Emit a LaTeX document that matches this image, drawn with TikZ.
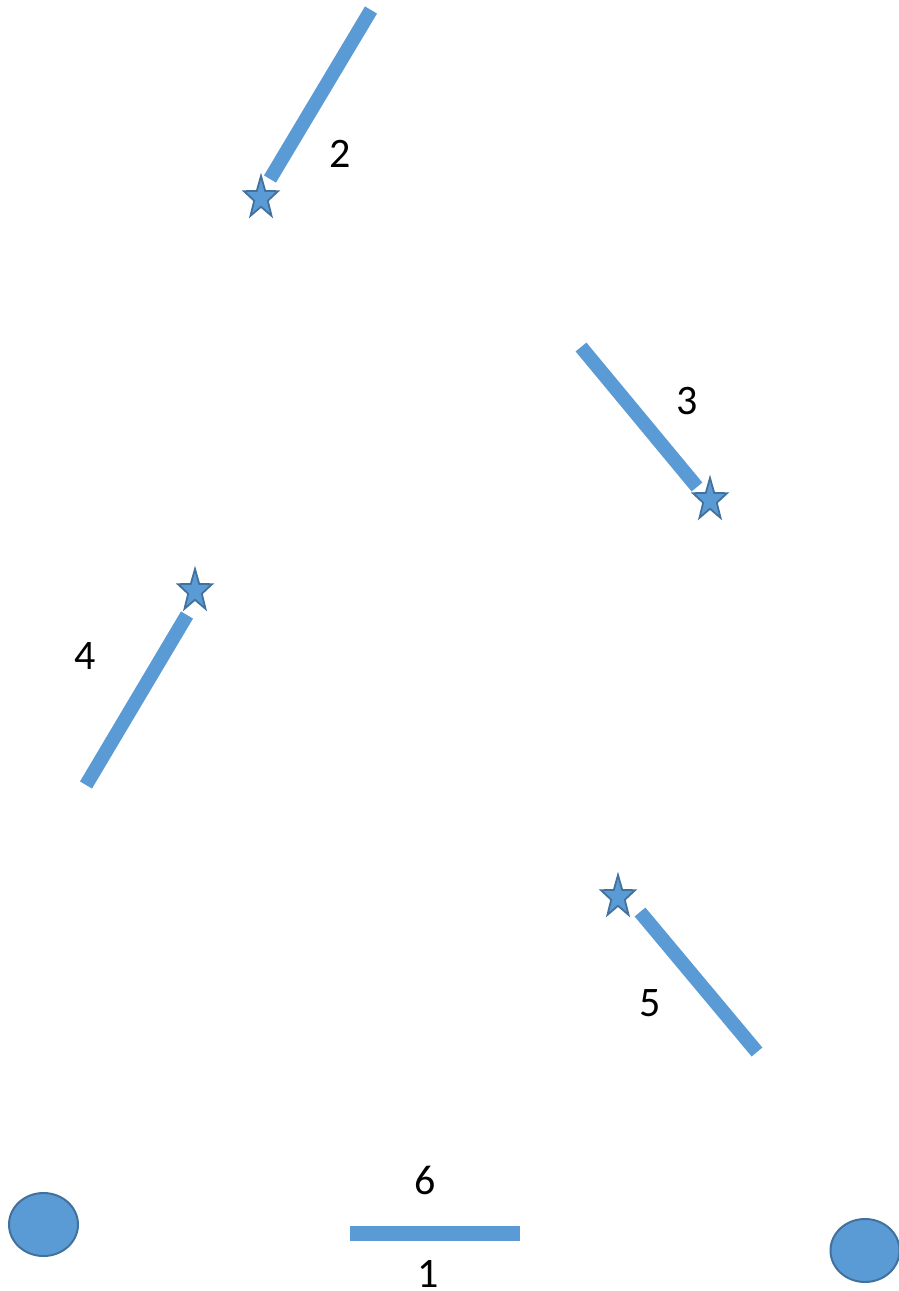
\documentclass[tikz,border=0pt]{standalone}
\usepackage{fontspec}
\setmainfont{Carlito}
\definecolor{shapefill}{HTML}{5B9BD5}
\definecolor{shapeline}{HTML}{41719C}
\begin{document}
\begin{tikzpicture}[x=1pt,y=-1pt,
  bar/.style={draw=shapefill,line width=14pt},
  lbl/.style={inner sep=0pt,font=\fontsize{42}{50}\selectfont},
  starsty/.style={fill=shapefill,draw=shapeline,line width=1.8pt,line join=miter},
  dotsty/.style={fill=shapefill,draw=shapeline,line width=2pt},
  starmark/.pic={
    \begin{scope}[xscale=17.9,yscale=-22]
      \path[starsty] (90:1) -- (126:0.4) -- (162:1) -- (198:0.4) -- (234:1) -- (270:0.4) -- (306:1) -- (342:0.4) -- (18:1) -- (54:0.4) -- cycle;
    \end{scope}
  }]
\useasboundingbox (0,0) rectangle (898,1291);
% bar end points
\coordinate (b2a) at (371,10);  \coordinate (b2b) at (270,179);
\coordinate (b3a) at (581,347); \coordinate (b3b) at (697,487);
\coordinate (b4a) at (187,615); \coordinate (b4b) at (86,785);
\coordinate (b5a) at (640,912); \coordinate (b5b) at (757,1052);
\coordinate (b6a) at (350,1233); \coordinate (b6b) at (520,1233);
\draw[bar] (b2a) -- (b2b);
\draw[bar] (b3a) -- (b3b);
\draw[bar] (b4a) -- (b4b);
\draw[bar] (b5a) -- (b5b);
\draw[bar,line width=15pt] (b6a) -- (b6b);
% stars
\pic at (261,198) {starmark};
\pic at (710,500) {starmark};
\pic at (195,591) {starmark};
\pic at (618,897) {starmark};
% circles
\path[dotsty] (43.5,1224.5) ellipse [x radius=34.5, y radius=31.5];
\path[dotsty] (865,1250.5) ellipse [x radius=34.5, y radius=31.5];
% labels
\node[lbl] (l2) at (340,154) {2};
\node[lbl] (l3) at (687,401) {3};
\node[lbl] (l4) at (85,656) {4};
\node[lbl] (l5) at (650,1003) {5};
\node[lbl] (l6) at (425,1180) {6};
\node[lbl] (l1) at (428,1273.5) {1};
\end{tikzpicture}
\end{document}
